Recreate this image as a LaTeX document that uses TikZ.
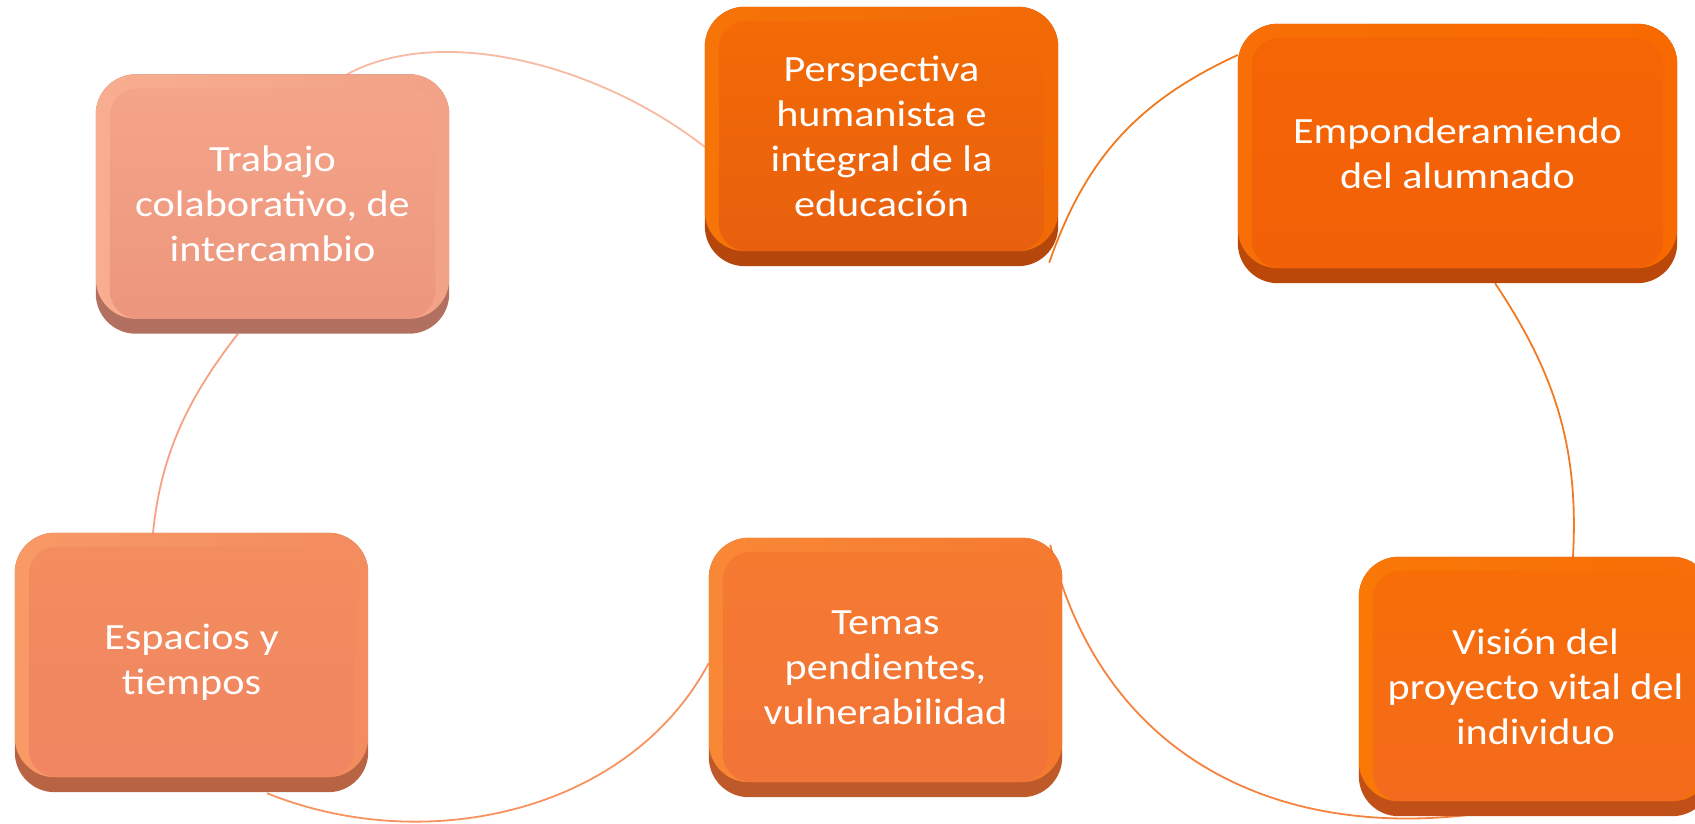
\documentclass[tikz,border=0pt]{standalone}
\usepackage{fontspec}
\newfontfamily\boxfont[FakeStretch=1.14]{Carlito}
\usetikzlibrary{calc}
\pgfdeclarelayer{arcs}
\pgfdeclarelayer{boxes}
\pgfsetlayers{arcs,boxes,main}

% Trabajo
\definecolor{trBand}{HTML}{B27060}
\definecolor{trRimL}{HTML}{F8AD91}
\definecolor{trRimR}{HTML}{F2A286}
\definecolor{trTop}{HTML}{F4A489}
\definecolor{trBot}{HTML}{EC967D}
% Perspectiva
\definecolor{peBand}{HTML}{B5470C}
\definecolor{peRimL}{HTML}{F77408}
\definecolor{peRimR}{HTML}{F26A06}
\definecolor{peTop}{HTML}{F36A06}
\definecolor{peBot}{HTML}{E8600E}
% Emponderamiendo
\definecolor{emBand}{HTML}{BB4808}
\definecolor{emRimL}{HTML}{F76F06}
\definecolor{emRimR}{HTML}{F86A00}
\definecolor{emTop}{HTML}{F56405}
\definecolor{emBot}{HTML}{F26107}
% Vision
\definecolor{viBand}{HTML}{C05018}
\definecolor{viRimL}{HTML}{F97806}
\definecolor{viRimR}{HTML}{F76E08}
\definecolor{viTop}{HTML}{F76D06}
\definecolor{viBot}{HTML}{F46B1E}
% Temas
\definecolor{teBand}{HTML}{BE5A2A}
\definecolor{teRimL}{HTML}{F98836}
\definecolor{teRimR}{HTML}{F57A30}
\definecolor{teTop}{HTML}{F57A30}
\definecolor{teBot}{HTML}{F27438}
% Espacios
\definecolor{esBand}{HTML}{B86444}
\definecolor{esRimL}{HTML}{F89966}
\definecolor{esRimR}{HTML}{F38C5E}
\definecolor{esTop}{HTML}{F38C5E}
\definecolor{esBot}{HTML}{F08662}
% arcs
\definecolor{arcA}{HTML}{F8B9A2}
\definecolor{arcB}{HTML}{F07A20}
\definecolor{arcC}{HTML}{F27A20}
\definecolor{arcD}{HTML}{F5823E}
\definecolor{arcE}{HTML}{F8925E}
\definecolor{arcF}{HTML}{F7A083}

\newcommand\boxdecor[6]{%
  \begin{pgfonlayer}{boxes}
    \fill[#2, rounded corners=40pt] (#1.south west) rectangle (#1.north east);
    \shade[left color=#3, right color=#4, rounded corners=40pt]
      (#1.north west) rectangle ($(#1.south east)+(0,15)$);
    \shade[top color=#5, bottom color=#6, rounded corners=28pt]
      ($(#1.north west)+(14,-14)$) rectangle ($(#1.south east)+(-14,15)$);
  \end{pgfonlayer}}

\tikzset{
  cbox/.style={rectangle, inner sep=0pt, minimum width=353pt, minimum height=259pt,
    align=center, text=white, font=\boxfont\fontsize{37}{45}\selectfont},
  arcline/.style={line width=1.8pt}
}

\begin{document}
\begin{tikzpicture}[x=1pt,y=1pt]
\useasboundingbox (0,0) rectangle (1695,823);

\node[cbox] (trab) at (272.5,619) {Trabajo\\colaborativo, de\\intercambio};
\node[cbox] (persp) at (881.5,686.5) {Perspectiva\\humanista e\\integral de la\\educación};
\node[cbox, minimum width=439pt] (emp) at (1457.5,669.5) {Emponderamiendo\\del alumnado};
\node[cbox] (vis) at (1535.5,136.5) {Visión del\\proyecto vital del\\individuo};
\node[cbox] (temas) at (885.5,155.5) {Temas\\pendientes,\\vulnerabilidad};
\node[cbox] (esp) at (191.5,160.5) {Espacios y\\tiempos};

\boxdecor{trab}{trBand}{trRimL}{trRimR}{trTop}{trBot}
\boxdecor{persp}{peBand}{peRimL}{peRimR}{peTop}{peBot}
\boxdecor{emp}{emBand}{emRimL}{emRimR}{emTop}{emBot}
\boxdecor{vis}{viBand}{viRimL}{viRimR}{viTop}{viBot}
\boxdecor{temas}{teBand}{teRimL}{teRimR}{teTop}{teBot}
\boxdecor{esp}{esBand}{esRimL}{esRimR}{esTop}{esBot}

\begin{pgfonlayer}{arcs}
\draw[arcline, arcA] ($(trab.north)+(74.5,0)$) .. controls +(97,52) and +(-102,80) .. ($(persp.west)+(0,-10.5)$);
\draw[arcline, arcB] ($(persp.south east)+(-9,3.5)$) .. controls +(36,104) and +(-100,-46) .. ($(emp.west)+(0,98.5)$);
\draw[arcline, arcC] ($(emp.south)+(37.5,0)$) .. controls +(60,-90) and +(6,110) .. ($(vis.north)+(37.5,0)$);
\draw[arcline, arcD] ($(vis.south)+(-69.5,1)$) .. controls +(-200,-22) and +(50,-205) .. ($(temas.north east)+(-12,-7)$);
\draw[arcline, arcE] ($(temas.west)+(0,4.5)$) .. controls +(-80,-150) and +(158,-64) .. ($(esp.south)+(75.5,-1)$);
\draw[arcline, arcF] ($(esp.north)+(-38.5,0)$) .. controls +(8,80) and +(-49,-63) .. ($(trab.south)+(-34.5,0)$);
\end{pgfonlayer}
\end{tikzpicture}
\end{document}
